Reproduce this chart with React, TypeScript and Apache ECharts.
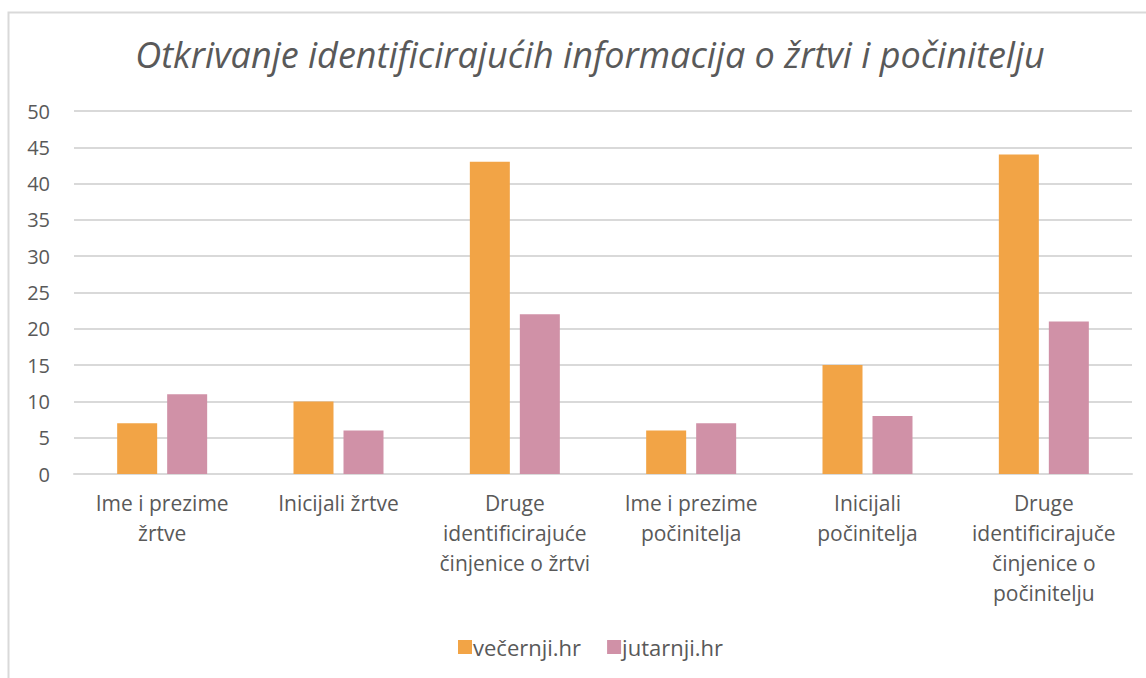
import React, { useEffect, useRef } from "react";
import * as echarts from "echarts";

const categories = [
  "Ime i prezime\nžrtve",
  "Inicijali žrtve",
  "Druge\nidentificirajuće\nčinjenice o žrtvi",
  "Ime i prezime\npočinitelja",
  "Inicijali\npočinitelja",
  "Druge\nidentificirajuče\nčinjenice o\npočinitelju",
];
const vecernji = [7, 10, 43, 6, 15, 44];
const jutarnji = [11, 6, 22, 7, 8, 21];
const seriesNames = ["večernji.hr", "jutarnji.hr"];
const titleText = "Otkrivanje identificirajućih informacija o žrtvi i počinitelju";

const FONT = "'Open Sans', 'Noto Sans', sans-serif";
const TEXT = "#595959";

export default function App() {
  const ref = useRef<HTMLDivElement>(null);
  useEffect(() => {
    const chart = echarts.init(ref.current!, null, { renderer: "svg" });
    chart.setOption({
      animation: false,
      textStyle: { fontFamily: FONT },
      title: {
        text: titleText,
        left: 585,
        textAlign: "center",
        top: 31,
        textStyle: { fontSize: 36, fontStyle: "italic", fontWeight: "normal", color: TEXT, fontFamily: FONT },
      },
      legend: {
        data: seriesNames,
        left: 453,
        top: 631,
        itemWidth: 14,
        itemHeight: 14,
        itemGap: 26,
        icon: "rect",
        textStyle: { fontSize: 22, color: TEXT, fontFamily: FONT, padding: [0, 0, 0, -4] },
        align: "left",
      },
      grid: { left: 74, right: 14, top: 111, bottom: 204, containLabel: false },
      xAxis: {
        type: "category",
        data: categories,
        axisTick: { show: false },
        axisLine: { lineStyle: { color: "#d9d9d9", width: 2 } },
        axisLabel: { fontSize: 21, color: TEXT, lineHeight: 30, margin: 14, interval: 0, fontFamily: FONT, verticalAlign: "top" },
      },
      yAxis: {
        type: "value",
        min: 0,
        max: 50,
        interval: 5,
        axisLine: { show: false },
        axisTick: { show: false },
        splitLine: { lineStyle: { color: "#d9d9d9", width: 2 } },
        axisLabel: { fontSize: 20, color: TEXT, margin: 24, fontFamily: FONT },
      },
      graphic: [
        {
          type: "rect",
          shape: { x: 8.5, y: 12.5, width: 1160, height: 700 },
          style: { fill: "none", stroke: "#d9d9d9", lineWidth: 2 },
          silent: true,
          z: -10,
        },
      ],
      series: [
        { name: seriesNames[0], type: "bar", data: vecernji, barWidth: 40, barGap: "25%", itemStyle: { color: "#F2A446" } },
        { name: seriesNames[1], type: "bar", data: jutarnji, barWidth: 40, itemStyle: { color: "#D091A7" } },
      ],
    });
    return () => chart.dispose();
  }, []);
  return <div ref={ref} style={{ position: "fixed", left: 0, top: 0, width: 1146, height: 678, background: "#fff" }} />;
}
